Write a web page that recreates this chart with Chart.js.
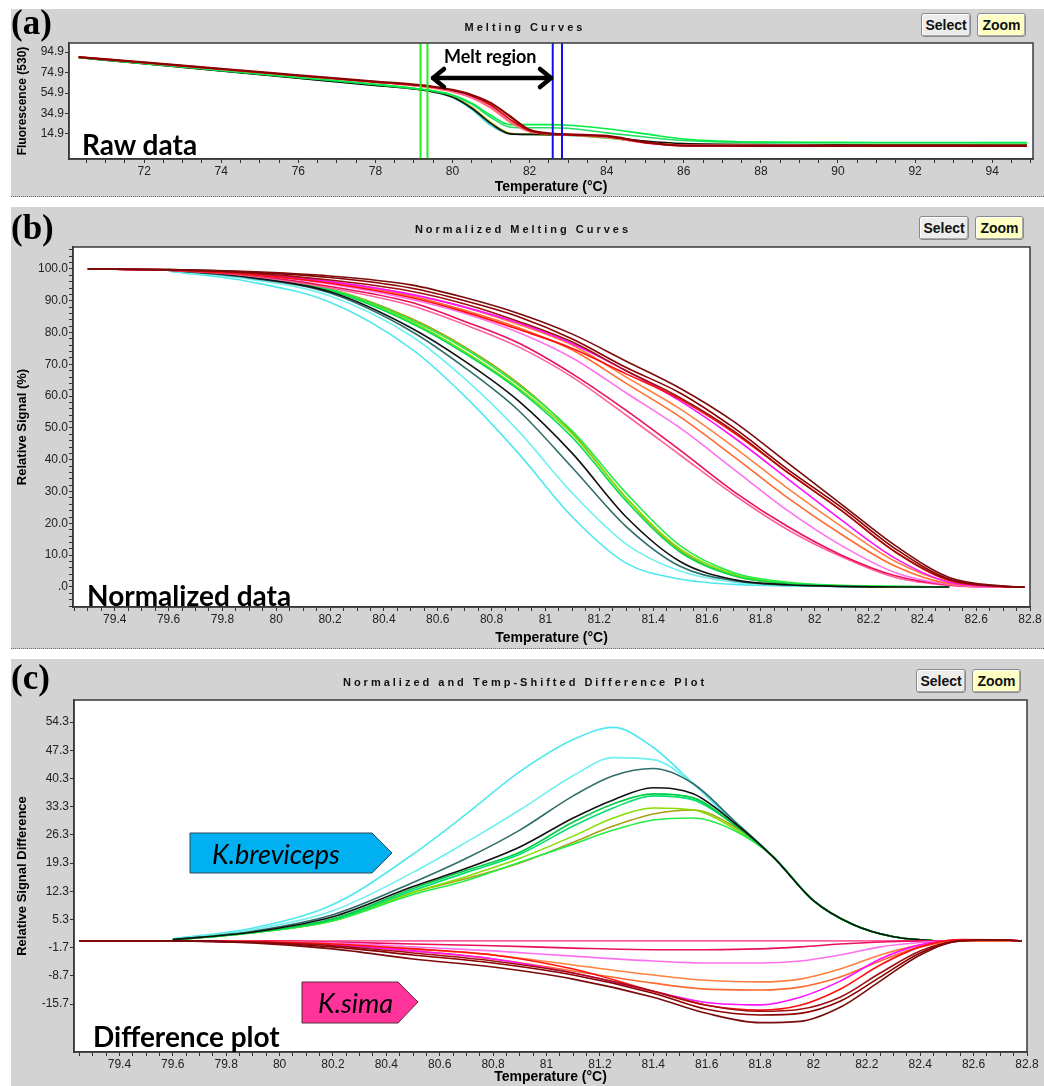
<!DOCTYPE html>
<html lang="en">
<head>
<meta charset="UTF-8">
<title>Melting Curves</title>
<script src="https://cdn.jsdelivr.net/npm/chart.js"></script>
<style>
  body { margin: 0; width: 1044px; height: 1086px; position: relative; overflow: hidden; background: #fff; font-family: Arial, "Liberation Sans", sans-serif; }
  .panel { position: absolute; left: 11px; width: 1033px; background: #d3d3d3; border-bottom: 1px dotted #666; box-sizing: border-box; }
  .panel canvas { position: absolute; left: 0; top: 0; }
  .ptitle { position: absolute; width: 460px; text-align: center; font-weight: bold; font-size: 11px; letter-spacing: 3px; color: #111; }
  .btn { position: absolute; height: 24px; line-height: 23px; font-weight: bold; font-size: 14px; text-align: center; color: #111; border: 1px solid #8a8a8a; border-radius: 3px; box-sizing: border-box; box-shadow: inset -1px -1px 0 #aaa, inset 1px 1px 0 #fff; }
  .sel { background: #ececec; width: 50px; }
  .zm { background: #ffffc4; width: 49px; }
  .tag { position: absolute; left: 11px; font-family: "Times New Roman", "Liberation Serif", serif; font-weight: bold; font-size: 35px; line-height: 1; }
  .big { position: absolute; font-family: Lato, "Open Sans", sans-serif; font-weight: bold; font-size: 28px; line-height: 1; color: #000; }
  .call { position: absolute; font-family: Lato, "Open Sans", sans-serif; font-style: italic; font-size: 27px; line-height: 1; color: #000; }
  svg { position: absolute; left: 0; top: 0; }
</style>
</head>
<body>

<div class="panel" style="top:9px;height:188px;"><canvas id="rawChart" width="1033" height="187"></canvas></div>
<div class="panel" style="top:207px;height:442px;"><canvas id="normChart" width="1033" height="440"></canvas></div>
<div class="panel" style="top:659px;height:427px;border-bottom:none;"><canvas id="diffChart" width="1033" height="427"></canvas></div>

<div class="tag" style="top:5px;">(a)</div>
<div class="tag" style="top:210px;">(b)</div>
<div class="tag" style="top:660px;">(c)</div>

<div class="ptitle" style="left:295px;top:21px;">Melting Curves</div>
<div class="ptitle" style="left:293px;top:223px;">Normalized Melting Curves</div>
<div class="ptitle" style="left:295px;top:676px;">Normalized and Temp-Shifted Difference Plot</div>

<div class="btn sel" style="left:921px;top:13px;">Select</div>
<div class="btn zm" style="left:977px;top:13px;">Zoom</div>
<div class="btn sel" style="left:919px;top:216px;">Select</div>
<div class="btn zm" style="left:975px;top:216px;">Zoom</div>
<div class="btn sel" style="left:916px;top:669px;">Select</div>
<div class="btn zm" style="left:972px;top:669px;">Zoom</div>

<svg width="1044" height="1086">
  <g stroke="#000" stroke-width="4.5" fill="none" stroke-linecap="round" stroke-linejoin="round">
    <line x1="433" y1="78" x2="551" y2="78"/>
    <polyline points="444,69 433,78 444,87"/>
    <polyline points="540,69 551,78 540,87"/>
  </g>
  <polygon points="190,833 372,833 392,853 372,873 190,873" fill="#00b0f0" stroke="#2a4a5a" stroke-width="1"/>
  <polygon points="302,982 398,982 418,1002 398,1023 302,1023" fill="#ff3399" stroke="#5a2a3a" stroke-width="1"/>
</svg>

<div class="big" style="left:444px;top:47px;font-size:18px;">Melt region</div>
<div class="big" style="left:82px;top:130px;">Raw data</div>
<div class="big" style="left:87px;top:581px;">Normalized data</div>
<div class="big" style="left:93px;top:1022px;">Difference plot</div>
<div class="call" style="left:212px;top:840px;">K.breviceps</div>
<div class="call" style="left:318px;top:989px;">K.sima</div>

<script>
// ---------- (a) raw melting curves ----------
const tempA = [70.3, 72, 74, 76, 78, 79, 79.5, 80, 80.5, 81, 81.5, 82, 82.5, 83, 84, 85, 86, 88, 90, 92, 94, 94.9];
const rawDarkRed = [90, 84.7, 78.4, 72.2, 66, 63, 61, 58, 53, 45, 32, 19, 15.5, 14.5, 13, 7, 3.5, 3.4, 3.3, 3.3, 3.2, 3.2];
const rawRed     = [90, 84.6, 78.3, 72, 65.8, 62.7, 60.5, 57.5, 52, 43, 29, 18, 15, 14, 12.5, 6.5, 3.5, 3.3, 3.3, 3.2, 3.2, 3.2];
const rawPink    = [90, 84.5, 78.1, 71.8, 65.5, 62.2, 60, 56.5, 50.5, 41, 27, 17.5, 15, 14, 12, 6, 3.8, 3.6, 3.5, 3.5, 3.5, 3.5];
const rawOrange  = [90, 84.5, 78, 71.7, 65.4, 62, 59.7, 56, 50, 40, 26, 17, 14.8, 14, 12, 6.5, 4, 3.8, 3.7, 3.7, 3.6, 3.6];
const rawGreen1  = [89.5, 83.8, 77, 70.2, 63.3, 59.5, 57, 53, 45, 33, 24, 24, 24, 23.5, 20, 15, 10, 7, 6.7, 6.6, 6.5, 6.5];
const rawGreen2  = [89.5, 83.8, 77, 70.2, 63.3, 59.3, 56.8, 52.5, 44, 31, 21.5, 21, 21, 20.5, 16, 12, 8.5, 6.5, 6.4, 6.3, 6.3, 6.3];
const rawBlack   = [89.5, 83.5, 76.5, 69.4, 62.3, 58.8, 56, 51, 40, 25, 15, 14.5, 14.2, 14, 12, 8, 5.5, 4.5, 4.3, 4.2, 4.2, 4.2];
const rawOlive   = [89.5, 83.5, 76.6, 69.5, 62.4, 59, 56.3, 51.5, 41, 26, 15.5, 14.5, 14, 13.8, 11, 7, 5, 4.5, 4.3, 4.3, 4.3, 4.3];
const rawCyan    = [89.5, 83.5, 76.5, 69.4, 62.3, 58.8, 56, 50.5, 39, 23, 15, 14.5, 14, 13.5, 11, 7, 5, 4.5, 4.3, 4.2, 4.2, 4.2];
const meltLimits = [79.17, 79.35, 82.6, 82.84];
const meltColors = ["#22ee22", "#22ee22", "#1010ee", "#1010ee"];
const xTicksA = [72, 74, 76, 78, 80, 82, 84, 86, 88, 90, 92, 94];
const xLabelsA = ["72", "74", "76", "78", "80", "82", "84", "86", "88", "90", "92", "94"];
const yTicksA = [14.9, 34.9, 54.9, 74.9, 94.9];
const yLabelsA = ["14.9", "34.9", "54.9", "74.9", "94.9"];

// ---------- (b) normalized curves ----------
const tempB = [79.3, 79.6, 79.9, 80.2, 80.5, 80.7, 80.9, 81.1, 81.3, 81.5, 81.7, 81.9, 82.1, 82.3, 82.5, 82.7, 82.78];
const cyan1B   = [null, 99.3, 96, 89.5, 75, 60, 42, 22, 7.5, 2.5, 0.8, 0.3, 0.1, 0, 0];
const cyan2B   = [null, 99.4, 96.8, 91.5, 79, 65.5, 49, 29.5, 13.5, 5, 1.5, 0.5, 0.2, 0, 0];
const tealB    = [null, 99.6, 97.2, 92.4, 80.5, 69, 55.5, 37.5, 19, 6.5, 2, 0.6, 0.2, 0, 0];
const blackB   = [null, 99.7, 97.4, 92.8, 81.5, 71, 58.5, 42, 22, 8, 2.3, 0.7, 0.2, 0, 0];
const green1B  = [null, 99.7, 97.6, 93.2, 83, 73.5, 62, 47, 27, 11, 3.5, 1, 0.3, 0.1, 0];
const green2B  = [null, 99.8, 97.9, 93.6, 84, 75, 63.5, 49, 29.5, 13, 4.5, 1.5, 0.5, 0.2, 0];
const limeB    = [null, 99.7, 97.7, 93.4, 83.5, 74, 62.5, 48, 28, 12, 4, 1.2, 0.4, 0.1, 0];
const oliveB   = [null, 99.8, 98, 93.8, 84.5, 75.5, 64, 48.5, 28, 11.5, 3.5, 1, 0.3, 0, 0];
const maroon1B = [100, 99.8, 99.2, 97.8, 95, 91, 86, 79.5, 71, 62.5, 52, 39, 26, 13, 3, 0.3, 0];
const maroon2B = [100, 99.8, 99, 97.3, 94, 90, 85, 78, 69, 61, 50, 37, 25, 12, 2.5, 0.2, 0];
const maroon3B = [100, 99.7, 98.7, 96.5, 93, 89, 83.5, 77, 68, 59.5, 49, 36, 24, 11, 2.2, 0.2, 0];
const redB     = [100, 99.6, 98.2, 95.5, 91, 86.5, 81, 75, 67, 59, 48.5, 36, 24, 11, 2, 0.2, 0];
const magentaB = [100, 99.7, 98.5, 96, 92, 88, 83, 76.5, 68, 58.5, 47, 34, 21, 9, 1.5, 0.1, 0];
const orange1B = [100, 99.7, 98.5, 96, 92, 88, 82.5, 76, 66, 56, 44, 31, 19, 8, 1.5, 0.1, 0];
const orange2B = [100, 99.7, 98.4, 95.8, 91.5, 87, 81.5, 74.5, 64, 53.5, 41, 28, 16.5, 6.5, 1, 0.1, 0];
const violetB  = [100, 99.6, 98.2, 95.3, 90.5, 86, 80, 72, 61, 50, 37, 24, 13, 4.5, 0.8, 0, 0];
const crimsonB = [100, 99.6, 98, 94.5, 89.5, 83.5, 76.7, 67, 55.5, 43, 30, 19, 10, 3.5, 0.6, 0, 0];
const pinkB    = [100, 99.6, 97.8, 94, 88.5, 82.5, 75.5, 66, 54, 41.5, 29, 18, 9.5, 3, 0.5, 0, 0];
const yTicksB = [0, 10, 20, 30, 40, 50, 60, 70, 80, 90, 100];
const yLabelsB = [".0", "10.0", "20.0", "30.0", "40.0", "50.0", "60.0", "70.0", "80.0", "90.0", "100.0"];

// ---------- (c) difference plot ----------
const tempCg = [79.25, 79.6, 79.9, 80.2, 80.5, 80.7, 80.9, 81.1, 81.25, 81.4, 81.55, 81.7, 81.85, 82.0, 82.15, 82.3, 82.45];
const cyan1C    = [null, 0.5, 3.2, 9, 21.5, 31.5, 42, 50, 53, 48, 39, 29.5, 20.8, 10, 4, 1, 0];
const cyan2C    = [null, 0.4, 2.8, 7.5, 17, 24.5, 32.5, 41, 45.5, 45, 39, 30, 20.8, 10, 4, 1, 0];
const tealC     = [null, 0.3, 2.4, 6.5, 14.5, 20.5, 27.5, 36, 41, 42.8, 39, 30, 20.8, 10, 4, 1, 0];
const blackC    = [null, 0.3, 2.2, 6, 13.5, 18, 23.3, 30.5, 35, 38, 36.5, 29.5, 20.8, 10, 4, 1, 0];
const green1C   = [null, 0.3, 2.1, 5.5, 13, 17.5, 22, 29.5, 34, 36.5, 35.5, 29, 20.8, 10, 4, 1, 0];
const green2C   = [null, 0.3, 2.1, 5.3, 12.5, 17, 21.5, 28.5, 33, 36, 35, 29, 20.8, 10, 4, 1, 0];
const limeC     = [null, 0.2, 2, 5, 12, 16, 20.5, 26, 30.5, 33, 32.5, 28, 20.8, 10, 4, 1, 0];
const oliveC    = [null, 0.2, 2, 5, 12, 15.5, 19.3, 24.5, 28.5, 31.5, 32.5, 28.5, 20.8, 10, 4, 1, 0];
const greenLowC = [null, 0.2, 2, 5, 11.5, 15, 19.5, 24, 27.5, 30, 30.5, 27.5, 20.8, 10, 4, 1, 0];
const tempCr = [79.25, 79.6, 79.9, 80.2, 80.5, 80.8, 81.1, 81.4, 81.6, 81.8, 81.95, 82.1, 82.25, 82.4, 82.55, 82.7, 82.78];
const maroon1C = [0, 0, -0.5, -2, -4.5, -6.5, -9.5, -14, -18, -20.3, -20, -16.5, -10, -3.5, 0, 0.2, 0];
const maroon2C = [0, 0, -0.4, -1.5, -3.5, -5.5, -8.5, -13, -17, -18.4, -18, -15, -9, -3, 0, 0.2, 0];
const maroon3C = [0, 0, -0.3, -1.2, -3, -5, -8, -12.5, -16, -17.5, -17, -14, -8, -2.5, 0, 0.2, 0];
const redC     = [0, 0, -0.2, -0.8, -2, -3.5, -7, -12.5, -16, -17.2, -16, -12, -6, -1.5, 0.3, 0.2, 0];
const magentaC = [0, 0, -0.3, -1, -2.5, -4.5, -8, -12.5, -15.3, -15.9, -14, -10, -4.5, -1, 0.2, 0.2, 0];
const orange2C = [0, 0, -0.3, -1, -2.5, -4.5, -7.5, -10.5, -12, -12.2, -11.5, -9, -5, -1.5, 0, 0, 0];
const orange1C = [0, 0, -0.2, -0.8, -2, -3.5, -6, -8.5, -9.8, -10.2, -9.5, -7, -3.5, -1, 0, 0, 0];
const violetC  = [0, 0, -0.2, -0.5, -1.5, -2.5, -3.8, -5, -5.5, -5.5, -5, -3.5, -1.5, -0.4, 0, 0, 0];
const crimsonC = [0, 0, 0, -0.3, -0.8, -1.2, -1.8, -2.2, -2.2, -2, -1.5, -0.8, -0.3, 0, 0, 0, 0];
const pinkC    = [0, 0, 0, 0, 0, 0, 0, 0, 0, 0, 0, 0, 0, 0, 0, 0, 0];
const yTicksC = [-15.7, -8.7, -1.7, 5.3, 12.3, 19.3, 26.3, 33.3, 40.3, 47.3, 54.3];
const yLabelsC = ["-15.7", "-8.7", "-1.7", "5.3", "12.3", "19.3", "26.3", "33.3", "40.3", "47.3", "54.3"];

const xTicksBC = [79.4, 79.6, 79.8, 80, 80.2, 80.4, 80.6, 80.8, 81, 81.2, 81.4, 81.6, 81.8, 82, 82.2, 82.4, 82.6, 82.8];
const xLabelsBC = ["79.4", "79.6", "79.8", "80", "80.2", "80.4", "80.6", "80.8", "81", "81.2", "81.4", "81.6", "81.8", "82", "82.2", "82.4", "82.6", "82.8"];

const fam = "Arial, 'Liberation Sans', sans-serif";
const tickFont = { family: fam, size: 12 };

function points(xs, ys) {
  const out = [];
  ys.forEach((y, i) => { if (y !== null) out.push({ x: xs[i], y: y }); });
  return out;
}

function line(xs, ys, color, width) {
  return { data: points(xs, ys), borderColor: color, borderWidth: width || 1.6, pointRadius: 0, fill: false, cubicInterpolationMode: "monotone" };
}

// major ticks carry labels; minor ticks are blank marks in between
function tickSetup(majors, labels, minorStep, lo, hi) {
  const all = majors.slice();
  if (minorStep) {
    for (let v = Math.ceil(lo / minorStep) * minorStep; v <= hi; v += minorStep) {
      if (!majors.some(m => Math.abs(m - v) < 1e-6)) all.push(+v.toFixed(4));
    }
  }
  all.sort((a, b) => a - b);
  return {
    afterBuildTicks: s => { s.ticks = all.map(v => ({ value: v })); },
    callback: v => {
      const i = majors.findIndex(m => Math.abs(m - v) < 1e-6);
      return i >= 0 ? labels[i] : "";
    }
  };
}

const frame = {
  id: "frame",
  beforeDraw(c) {
    const a = c.chartArea, ctx = c.ctx;
    ctx.save();
    ctx.fillStyle = "#fff";
    ctx.fillRect(a.left, a.top, a.width, a.height);
    ctx.restore();
  },
  afterDraw(c) {
    const a = c.chartArea, ctx = c.ctx;
    ctx.save();
    ctx.strokeStyle = "#3a3a3a";
    ctx.lineWidth = 1.5;
    ctx.strokeRect(a.left, a.top, a.width, a.height);
    ctx.restore();
  }
};

function makeChart(id, datasets, o) {
  const xt = tickSetup(o.xTicks, o.xLabels, o.xMinor, o.xMin, o.xMax);
  const yt = tickSetup(o.yTicks, o.yLabels, o.yMinor, o.yMin, o.yMax);
  return new Chart(document.getElementById(id), {
    type: "line",
    data: { datasets: datasets.slice().reverse() },
    plugins: [frame],
    options: {
      responsive: false,
      animation: false,
      layout: { padding: { left: 0, top: o.top, right: o.right, bottom: 0 } },
      plugins: { legend: { display: false }, tooltip: { enabled: false } },
      scales: {
        x: {
          type: "linear", min: o.xMin, max: o.xMax,
          afterBuildTicks: xt.afterBuildTicks,
          afterFit: s => { s.height = o.xHeight; s.paddingLeft = 0; s.paddingRight = 0; },
          ticks: { autoSkip: false, maxRotation: 0, minRotation: 0, font: tickFont, color: "#222", padding: 1, callback: xt.callback },
          grid: { drawOnChartArea: false, drawTicks: true, tickLength: 4, color: "#333" },
          border: { display: true, color: "#333", width: 1.5 },
          title: { display: true, text: "Temperature (°C)", color: "#000", font: { family: fam, size: 14, weight: "bold" }, padding: 0 }
        },
        y: {
          type: "linear", min: o.yMin, max: o.yMax,
          afterBuildTicks: yt.afterBuildTicks,
          afterFit: s => { s.width = o.yWidth; s.paddingTop = 0; s.paddingBottom = 0; },
          ticks: { autoSkip: false, font: tickFont, color: "#222", padding: 1, callback: yt.callback },
          grid: { drawOnChartArea: false, drawTicks: true, tickLength: 4, color: "#333" },
          border: { display: true, color: "#333", width: 1.5 },
          title: { display: true, text: o.yTitle, color: "#000", font: { family: fam, size: o.yTitleSize, weight: "bold" }, padding: { top: 4, bottom: 0 } }
        }
      }
    }
  });
}

// (a)
const rawSets = [
  line(tempA, rawCyan, "#40e0e0"),
  line(tempA, rawOlive, "#b0b000"),
  line(tempA, rawBlack, "#111111"),
  line(tempA, rawGreen2, "#22dd66"),
  line(tempA, rawGreen1, "#00ee44"),
  line(tempA, rawOrange, "#ff8040"),
  line(tempA, rawPink, "#ff60b0"),
  line(tempA, rawRed, "#e00000"),
  line(tempA, rawDarkRed, "#8b0000", 2.2)
];
meltLimits.forEach((t, i) => {
  rawSets.push({ data: [{ x: t, y: -20 }, { x: t, y: 120 }], borderColor: meltColors[i], borderWidth: 2, pointRadius: 0 });
});
makeChart("rawChart", rawSets, {
  xMin: 70.05, xMax: 95.06, xTicks: xTicksA, xLabels: xLabelsA, xMinor: 0.5,
  yMin: -9.5, yMax: 103.7, yTicks: yTicksA, yLabels: yLabelsA, yMinor: 0,
  top: 34, right: 11, xHeight: 37, yWidth: 58,
  yTitle: "Fluorescence (530)", yTitleSize: 12
});

// (b)
makeChart("normChart", [
  line(tempB, cyan1B, "#4fe8ee"),
  line(tempB, cyan2B, "#6ff0f0"),
  line(tempB, tealB, "#2e6e6a"),
  line(tempB, oliveB, "#a8a010"),
  line(tempB, limeB, "#88dd00"),
  line(tempB, green2B, "#22ee44"),
  line(tempB, green1B, "#00dd55"),
  line(tempB, blackB, "#111111"),
  line(tempB, pinkB, "#ff60a0"),
  line(tempB, crimsonB, "#e8105a"),
  line(tempB, violetB, "#ff70ee"),
  line(tempB, orange2B, "#ff6a30"),
  line(tempB, orange1B, "#ff8040"),
  line(tempB, magentaB, "#ff10ff"),
  line(tempB, redB, "#ff1010"),
  line(tempB, maroon3B, "#a01010"),
  line(tempB, maroon2B, "#8b0000"),
  line(tempB, maroon1B, "#7a0c0c")
], {
  xMin: 79.245, xMax: 82.8, xTicks: xTicksBC, xLabels: xLabelsBC, xMinor: 0.05,
  yMin: -6.3, yMax: 106.9, yTicks: yTicksB, yLabels: yLabelsB, yMinor: 2,
  top: 40, right: 14, xHeight: 40, yWidth: 62,
  yTitle: "Relative Signal (%)", yTitleSize: 13
});

// (c)
makeChart("diffChart", [
  line(tempCg, cyan1C, "#4fe8ee"),
  line(tempCg, cyan2C, "#6ff0f0"),
  line(tempCg, tealC, "#2e6e6a"),
  line(tempCg, oliveC, "#a8a010"),
  line(tempCg, limeC, "#88dd00"),
  line(tempCg, greenLowC, "#22ee44"),
  line(tempCg, green2C, "#00e070"),
  line(tempCg, green1C, "#00cc44"),
  line(tempCg, blackC, "#111111"),
  line(tempCr, pinkC, "#ff60a0"),
  line(tempCr, crimsonC, "#e8105a"),
  line(tempCr, violetC, "#ff70ee"),
  line(tempCr, orange1C, "#ff8040"),
  line(tempCr, orange2C, "#ff6a30"),
  line(tempCr, magentaC, "#ff10ff"),
  line(tempCr, redC, "#ff1010"),
  line(tempCr, maroon3C, "#a01010"),
  line(tempCr, maroon2C, "#8b0000"),
  line(tempCr, maroon1C, "#7a0c0c")
], {
  xMin: 79.23, xMax: 82.8, xTicks: xTicksBC, xLabels: xLabelsBC, xMinor: 0.05,
  yMin: -27.6, yMax: 59.8, yTicks: yTicksC, yLabels: yLabelsC, yMinor: 0,
  top: 41, right: 17, xHeight: 34, yWidth: 63,
  yTitle: "Relative Signal Difference", yTitleSize: 13
});
</script>
</body>
</html>
